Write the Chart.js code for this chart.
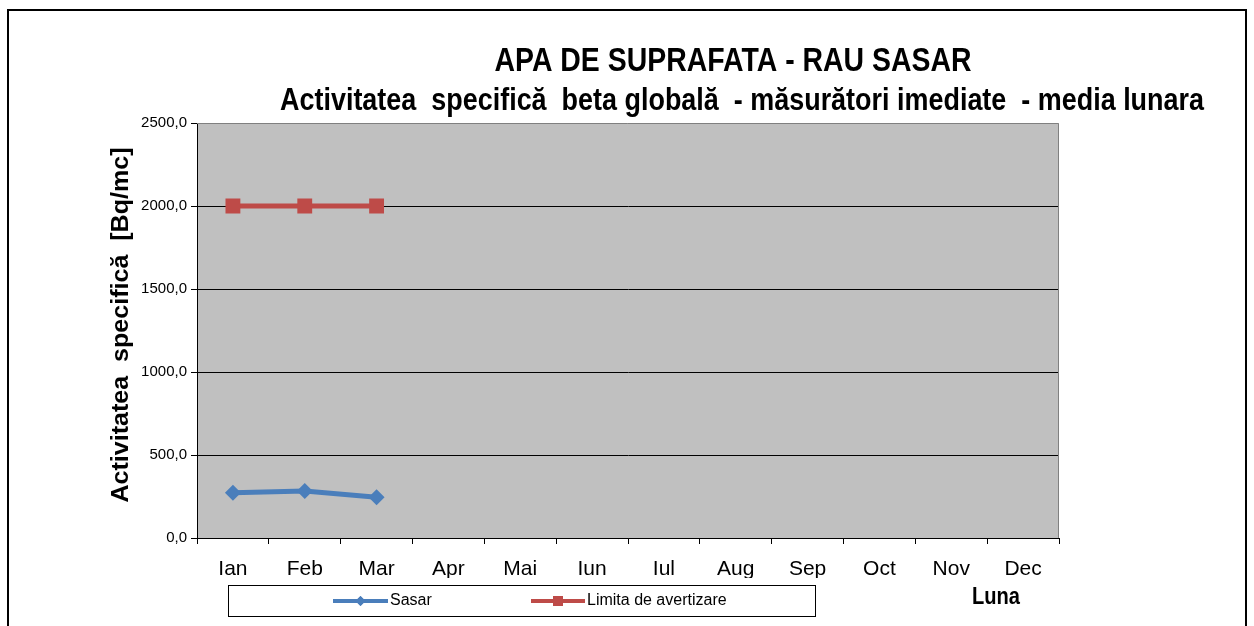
<!DOCTYPE html>
<html><head><meta charset="utf-8">
<script src="https://cdn.jsdelivr.net/npm/chart.js@4"></script>
<style>html,body{margin:0;padding:0;background:#fff}</style>
</head><body>
<canvas id="c" width="1254" height="626"></canvas>
<script>
const months = ['Ian','Feb','Mar','Apr','Mai','Iun','Iul','Aug','Sep','Oct','Nov','Dec'];
const sasar = [273, 283, 245, null, null, null, null, null, null, null, null, null];
const limita = [2000, 2000, 2000, null, null, null, null, null, null, null, null, null];
const yMin = 0, yMax = 2500, yStep = 500;
const titleLines = ['APA DE SUPRAFATA - RAU SASAR', 'Activitatea  specifică  beta globală  - măsurători imediate  - media lunara'];
const yTitle = 'Activitatea  specifică  [Bq/mc]';
const xTitle = 'Luna';
const seriesNames = ['Sasar', 'Limita de avertizare'];

const FONT = '"Liberation Sans", Arial, sans-serif';
const BLUE = '#4a7ebb', RED = '#be4b48';

function narrowText(ctx, text, cx, cy, width) {
  const w = ctx.measureText(text).width;
  ctx.save();
  ctx.translate(cx, cy);
  ctx.scale(width / w, 1);
  ctx.fillText(text, 0, 0);
  ctx.restore();
}

const decor = {
  id: 'decor',
  beforeDraw(chart) {
    const {ctx, chartArea: a} = chart;
    ctx.save();
    ctx.fillStyle = '#c0c0c0';
    ctx.fillRect(a.left, a.top, a.right - a.left, a.bottom - a.top);
    ctx.restore();
  },
  beforeDatasetsDraw(chart) {
    const {ctx, chartArea: a} = chart;
    ctx.save();
    ctx.strokeStyle = '#808080';
    ctx.lineWidth = 1;
    ctx.beginPath();
    ctx.moveTo(a.left, a.top + 0.5);
    ctx.lineTo(a.right - 0.5, a.top + 0.5);
    ctx.lineTo(a.right - 0.5, a.bottom);
    ctx.stroke();
    ctx.restore();
  },
  afterDraw(chart) {
    const {ctx, chartArea: a} = chart;
    ctx.save();
    // outer frame
    ctx.strokeStyle = '#000';
    ctx.lineWidth = 2;
    ctx.strokeRect(8, 10, 1238, 700);
    // titles
    ctx.fillStyle = '#000';
    ctx.textAlign = 'center';
    ctx.textBaseline = 'middle';
    ctx.font = 'bold 34px ' + FONT;
    narrowText(ctx, titleLines[0], 733, 62, 477);
    ctx.font = 'bold 32px ' + FONT;
    narrowText(ctx, titleLines[1], 742, 101, 924);
    // y title
    ctx.save();
    ctx.translate(121, 325);
    ctx.rotate(-Math.PI / 2);
    ctx.font = 'bold 24px ' + FONT;
    narrowText(ctx, yTitle, 0, 0, 355);
    ctx.restore();
    // x title
    ctx.font = 'bold 23px ' + FONT;
    narrowText(ctx, xTitle, 996, 598, 48);
    // legend box
    ctx.lineWidth = 1;
    ctx.strokeStyle = '#000';
    ctx.strokeRect(228.5, 585.5, 587, 31);
    const items = [
      {x0: 333, x1: 388, color: BLUE, style: 'rectRot', r: 5},
      {x0: 531, x1: 585, color: RED, style: 'rect', r: 7}
    ];
    ctx.textAlign = 'left';
    ctx.font = '16px ' + FONT;
    items.forEach((it, i) => {
      const y = 601;
      ctx.strokeStyle = it.color;
      ctx.lineWidth = 4;
      ctx.beginPath();
      ctx.moveTo(it.x0, y); ctx.lineTo(it.x1, y); ctx.stroke();
      ctx.fillStyle = it.color;
      Chart.helpers.drawPoint(ctx, {pointStyle: it.style, radius: it.r, borderWidth: 0}, (it.x0 + it.x1) / 2, y);
      ctx.fill();
      ctx.fillStyle = '#000';
      ctx.fillText(seriesNames[i], it.x1 + 2, y);
    });
    ctx.restore();
  }
};

new Chart(document.getElementById('c'), {
  type: 'line',
  data: {
    labels: months,
    datasets: [
      {label: seriesNames[0], data: sasar, borderColor: BLUE, backgroundColor: BLUE, borderWidth: 5,
       pointStyle: 'rectRot', pointRadius: 8, pointHoverRadius: 8, pointBorderWidth: 0, tension: 0},
      {label: seriesNames[1], data: limita, borderColor: RED, backgroundColor: RED, borderWidth: 5,
       pointStyle: 'rect', pointRadius: 10.5, pointHoverRadius: 10.5, pointBorderWidth: 0, tension: 0}
    ]
  },
  options: {
    responsive: false,
    animation: false,
    events: [],
    layout: {padding: {left: 100, right: 195, top: 123, bottom: 48}},
    plugins: {legend: {display: false}, title: {display: false}, tooltip: {enabled: false}},
    scales: {
      x: {
        offset: true,
        afterFit(s) { s.height = 40; },
        grid: {offset: true, drawOnChartArea: false, drawTicks: true, tickLength: 6, tickColor: '#000', tickWidth: 1},
        border: {display: true, color: '#000', width: 1},
        ticks: {color: '#000', font: {family: FONT, size: 21}, padding: 13, maxRotation: 0, autoSkip: false}
      },
      y: {
        min: yMin, max: yMax,
        afterFit(s) { s.width = 97; },
        grid: {
          color: ctx => (ctx.tick && ctx.tick.value === yMax) ? 'rgba(0,0,0,0)' : '#000',
          tickColor: '#000', tickLength: 6, lineWidth: 1, drawTicks: true
        },
        border: {display: true, color: '#000', width: 1},
        ticks: {
          stepSize: yStep, color: '#000', padding: 4,
          font: {family: FONT, size: 15},
          callback: v => v.toFixed(1).replace('.', ',')
        }
      }
    }
  },
  plugins: [decor]
});
</script>
</body></html>
